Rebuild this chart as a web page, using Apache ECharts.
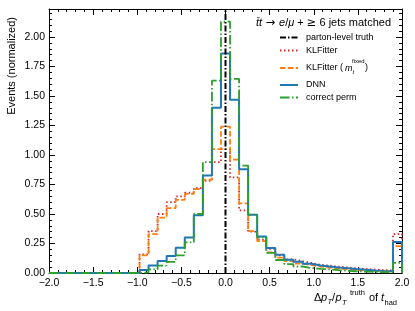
<!DOCTYPE html>
<html><head><meta charset="utf-8">
<script src="https://cdn.jsdelivr.net/npm/echarts@6/dist/echarts.min.js"></script>
<style>html,body{margin:0;padding:0;background:#fff}#c{width:415px;height:311px}</style>
</head><body><div id="c"></div>
<script>
// Histogram binning (39 equal bins between -2 and 2)
const BIN_MIN = -2, BIN_MAX = 2, N_BINS = 39;
const Y_MAX = 2.237;
const xTickValues = [-2.0, -1.5, -1.0, -0.5, 0.0, 0.5, 1.0, 1.5, 2.0];
const yTickValues = [0.00, 0.25, 0.50, 0.75, 1.00, 1.25, 1.50, 1.75, 2.00];
const truthValue = 0.0;

// normalized counts per bin (bins 0..38)
const klfitter = [0,0,0,0,0,0,0,0,0,0,
  0.158,0.355,0.50,0.60,0.65,0.68,0.72,0.78,0.94,1.05,
  0.81,0.53,0.35,0.28,0.205,0.15,0.115,0.10,0.085,0.07,
  0.062,0.054,0.047,0.04,0.034,0.029,0.025,0.022,0.33];
const klfitterFixed = [0,0,0,0,0,0,0,0,0,0,
  0.149,0.33,0.47,0.55,0.62,0.67,0.71,0.79,1.05,1.24,
  0.96,0.59,0.355,0.27,0.175,0.13,0.10,0.08,0.066,0.055,
  0.045,0.038,0.032,0.027,0.022,0.018,0.015,0.012,0.228];
const dnn = [0,0,0,0,0,0,0,0,0,0,
  0.025,0.063,0.102,0.145,0.213,0.30,0.49,0.826,1.40,1.86,
  1.468,0.88,0.494,0.31,0.212,0.155,0.113,0.095,0.078,0.064,
  0.055,0.047,0.04,0.033,0.027,0.022,0.018,0.015,0.262];
const correctPerm = [0,0,0,0,0,0,0,0,0,0,
  0.005,0.03,0.063,0.095,0.15,0.26,0.50,0.94,1.63,2.13,
  1.645,0.91,0.494,0.30,0.17,0.11,0.075,0.055,0.042,0.035,
  0.03,0.024,0.019,0.015,0.012,0.009,0.007,0.006,0.085];

const FONT = '"Liberation Sans", Arial, Helvetica, sans-serif';
const binW = (BIN_MAX - BIN_MIN) / N_BINS;
function stepData(vals) {
  const pts = [[BIN_MIN, 0]];
  vals.forEach((v, k) => {
    pts.push([BIN_MIN + k * binW, v]);
    pts.push([BIN_MIN + (k + 1) * binW, v]);
  });
  pts.push([BIN_MAX, 0]);
  return pts;
}
function isTick(v, arr) { return arr.some(t => Math.abs(t - v) < 1e-6); }
function fmt(v, d) { const s = Math.abs(v).toFixed(d); return v < -1e-9 ? '\u2212' + s : s; }

const tickStyle = { inside: true, length: 6, lineStyle: { color: '#000', width: 1 } };
const minorStyle = { show: true, splitNumber: 5, length: 3, lineStyle: { color: '#000', width: 1 } };
function xAx(pos, labels) {
  return { type: 'value', position: pos, min: BIN_MIN, max: BIN_MAX, interval: 0.5,
    axisLine: { onZero: false, lineStyle: { color: '#000', width: 1 } },
    axisTick: tickStyle, minorTick: minorStyle,
    splitLine: { show: false }, minorSplitLine: { show: false },
    axisLabel: { show: labels, color: '#000', fontFamily: FONT, fontSize: 10.5, margin: 5,
      formatter: v => isTick(v, xTickValues) ? fmt(v, 1) : '' } };
}
function yAx(pos, labels) {
  return { type: 'value', position: pos, min: 0, max: Y_MAX, interval: 0.25,
    axisLine: { onZero: false, lineStyle: { color: '#000', width: 1 } },
    axisTick: tickStyle, minorTick: minorStyle,
    splitLine: { show: false }, minorSplitLine: { show: false },
    axisLabel: { show: labels, color: '#000', fontFamily: FONT, fontSize: 10.5, margin: 4,
      formatter: v => isTick(v, yTickValues) ? fmt(v, 2) : '' } };
}
function hist(name, vals, color, dash, width) {
  return { name, type: 'line', data: stepData(vals), showSymbol: false, symbol: 'none',
    animation: false, clip: true, silent: true,
    lineStyle: { color, width, type: dash, cap: 'butt' } };
}
const S = {
  truth: { color: '#000', dash: [6, 2, 1.5, 2], w: 2 },
  kl: { color: '#d62728', dash: [1.5, 2.5], w: 1.8 },
  klf: { color: '#ff7f0e', dash: [5.5, 2.4], w: 1.8 },
  dnn: { color: '#1f77b4', dash: 'solid', w: 2 },
  cp: { color: '#2ca02c', dash: [9.6, 2.4, 1.5, 2.4], w: 1.8 }
};

const chart = echarts.init(document.getElementById('c'), null, { renderer: 'canvas' });
const txt = (x, y, text, size, opts) => Object.assign({ type: 'text', x, y, silent: true,
  style: Object.assign({ text, fill: '#000', fontFamily: FONT, fontSize: size, align: 'left', verticalAlign: 'middle' }, opts || {}) });
const it = (x, y, text, size) => txt(x, y, text, size, { fontStyle: 'italic' });
const handle = (y, s) => ({ type: 'line', silent: true, shape: { x1: 280, y1: y, x2: 298, y2: y },
  style: { stroke: s.color, lineWidth: s.w, lineDash: s.dash === 'solid' ? null : s.dash } });

const rows = [37.5, 50.5, 68, 85, 97.5];
const yLabel = txt(12, 17, 'Events (normalized)', 11, { align: 'right' });
yLabel.rotation = Math.PI / 2;
chart.setOption({
  animation: false,
  grid: { left: 49, right: 13, top: 9, bottom: 38 },
  xAxis: [xAx('bottom', true), xAx('top', false)],
  yAxis: [yAx('left', true), yAx('right', false)],
  series: [
    hist('KLFitter', klfitter, S.kl.color, S.kl.dash, S.kl.w),
    hist('KLFitter fixed', klfitterFixed, S.klf.color, S.klf.dash, S.klf.w),
    hist('DNN', dnn, S.dnn.color, 'solid', S.dnn.w),
    hist('correct perm', correctPerm, S.cp.color, S.cp.dash, S.cp.w),
    { name: 'parton-level truth', type: 'line', data: [[truthValue, 0], [truthValue, Y_MAX]],
      showSymbol: false, symbol: 'none', animation: false, silent: true,
      lineStyle: { color: '#000', width: S.truth.w, type: S.truth.dash, cap: 'butt' } }
  ],
  graphic: [
    yLabel,
    // x label
    txt(314, 298, '\u0394', 11), it(321, 298, 'p', 11), it(327.5, 302, 'T', 7.5),
    txt(332, 298, '/', 11), it(335.5, 298, 'p', 11), it(342, 302.5, 'T', 7.5),
    txt(350, 292.5, 'truth', 7.5), txt(369, 298, 'of', 11), it(381, 298, 't', 11), txt(384.5, 302.5, 'had', 7.5),
    // legend title
    { type: 'text', x: 256, y: 23, silent: true, style: { text: '{i|t\u0304t}{a| \u2192 }{i|e}{n|/}{i|\u03bc}{n| + }{a|\u2265}{n| 6 jets matched}',
      fontFamily: FONT, fontSize: 11, fill: '#000', verticalAlign: 'middle',
      rich: { i: { fontStyle: 'italic', fontFamily: FONT, fontSize: 11 }, n: { fontFamily: FONT, fontSize: 11 },
              a: { fontFamily: '"DejaVu Sans", sans-serif', fontSize: 11.5 } } } },
    handle(rows[0], S.truth), txt(306, rows[0], 'parton-level truth', 9),
    handle(rows[1], S.kl), txt(306, rows[1], 'KLFitter', 9),
    handle(rows[2], S.klf), txt(306, rows[2], 'KLFitter (', 9), it(345, rows[2], 'm', 9),
    it(352.5, rows[2] + 4, 't', 6), txt(352, rows[2] - 6.5, 'fixed', 6), txt(365, rows[2], ')', 9),
    handle(rows[3], S.dnn), txt(306, rows[3], 'DNN', 9),
    handle(rows[4], S.cp), txt(306, rows[4], 'correct perm', 9)
  ]
});
</script></body></html>
